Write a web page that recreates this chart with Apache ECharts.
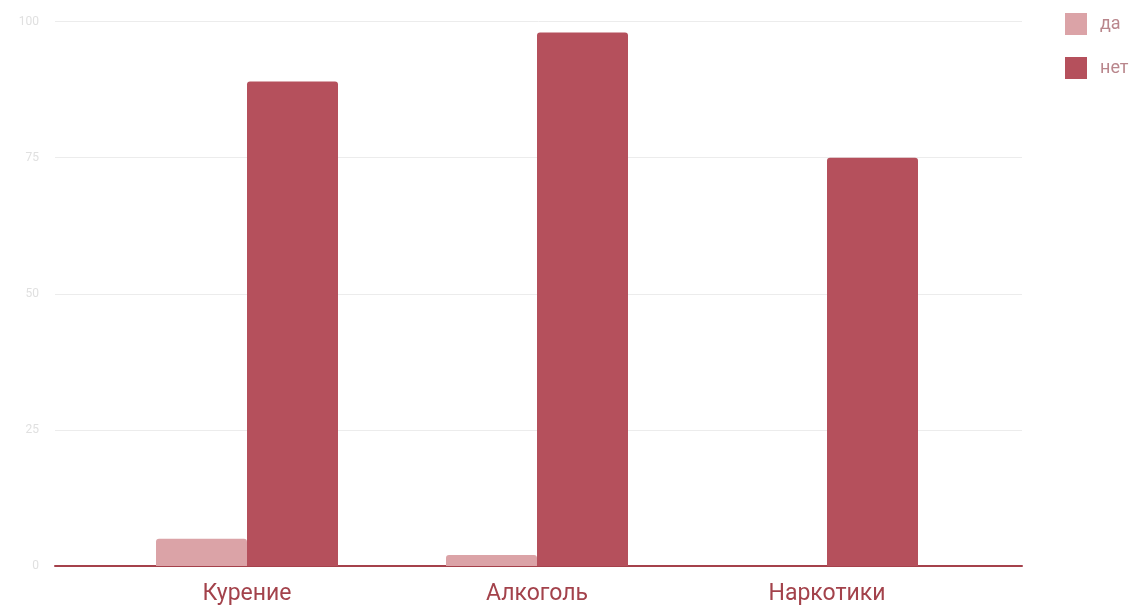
<!DOCTYPE html>
<html>
<head>
<meta charset="utf-8">
<script src="https://cdn.jsdelivr.net/npm/echarts@6/dist/echarts.min.js"></script>
<style>html,body{margin:0;padding:0;background:#fff;}#c{width:1140px;height:608px;}</style>
</head>
<body>
<div id="c"></div>
<script>
const categories = ['Курение', 'Алкоголь', 'Наркотики'];
const seriesNames = ['да', 'нет'];
const daValues = [5, 2, 0];
const netValues = [89, 98, 75];
const yTicks = [0, 25, 50, 75, 100];

const chart = echarts.init(document.getElementById('c'));
chart.setOption({
  animation: false,
  backgroundColor: '#fff',
  textStyle: { fontFamily: 'Roboto' },
  legend: {
    orient: 'vertical',
    left: 1060,
    top: 8,
    itemWidth: 22,
    itemHeight: 22,
    itemGap: 22,
    icon: 'rect',
    textStyle: { color: '#b9868c', fontSize: 18, fontFamily: 'Roboto', padding: [0, 0, 0, 8] },
    data: seriesNames
  },
  grid: [
    { left: 55, right: 118, top: 21.5, bottom: 42 },
    { left: 102, right: 168, top: 21.5, bottom: 42 }
  ],
  xAxis: [
    { type: 'category', gridIndex: 0, data: categories, axisLine: { show: true, lineStyle: { color: '#a5414b', width: 2 } }, axisTick: { show: false }, axisLabel: { show: false } },
    { type: 'category', gridIndex: 1, data: categories, axisLine: { show: false }, axisTick: { show: false },
      axisLabel: { color: '#a3424b', fontSize: 23, margin: 17, fontFamily: 'Roboto' } }
  ],
  yAxis: [
    { type: 'value', gridIndex: 0, min: 0, max: 100, interval: 25,
      axisLine: { show: false }, axisTick: { show: false },
      axisLabel: { color: '#e0e0e0', fontSize: 12, margin: 16 },
      splitLine: { lineStyle: { color: '#ececec', width: 1 } } },
    { type: 'value', gridIndex: 1, min: 0, max: 100, interval: 25, show: false, splitLine: { show: false } }
  ],
  series: [
    { name: 'да', type: 'bar', xAxisIndex: 1, yAxisIndex: 1, data: daValues, barWidth: 91, barGap: '0%',
      itemStyle: { color: '#dba3a7', borderRadius: [3, 3, 0, 0] } },
    { name: 'нет', type: 'bar', xAxisIndex: 1, yAxisIndex: 1, data: netValues, barWidth: 91, barGap: '0%',
      itemStyle: { color: '#b5505c', borderRadius: [3, 3, 0, 0] } }
  ]
});
</script>
</body>
</html>
